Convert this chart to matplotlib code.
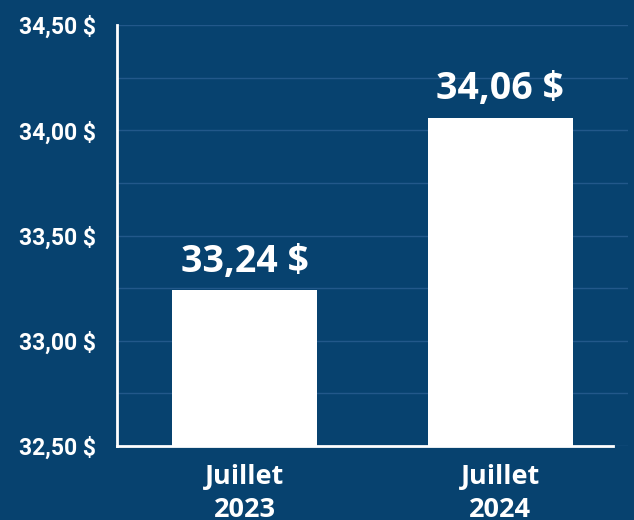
import matplotlib.pyplot as plt
import numpy as np

months = ['Juillet\n2023', 'Juillet\n2024']
wages = [33.24, 34.06]
y_ticks = [32.50, 33.00, 33.50, 34.00, 34.50]

bg = '#07426F'
grid_col = '#22588A'

def fr(v):
    return f'{v:.2f}'.replace('.', ',') + ' $'

fig = plt.figure(figsize=(6.34, 5.2), dpi=100)
fig.patch.set_facecolor(bg)
ax = fig.add_axes([117 / 634, 74 / 520, (628 - 117) / 634, (446 - 25) / 520])
ax.set_facecolor(bg)

x = np.arange(len(months))
bars = ax.bar(x, wages, width=0.566, color='white', zorder=3)

ax.set_xlim(-0.5, 1.5)
ax.set_ylim(32.5, 34.5)
grid_vals = np.arange(32.5, 34.51, 0.25)
ax.set_yticks(grid_vals)
ax.set_yticklabels([fr(v) if v in y_ticks else '' for v in grid_vals],
                   fontfamily='Roboto', fontweight='bold', fontsize=16.5, color='white')
ax.set_xticks(x)
ax.set_xticklabels(months, fontfamily='Open Sans', fontweight='bold', fontsize=19.5,
                   color='white', linespacing=1.35)
ax.tick_params(axis='y', length=0, pad=15)
ax.tick_params(axis='x', length=0, pad=13)

ax.grid(axis='y', color=grid_col, linewidth=1, zorder=0)
for s in ['top', 'right']:
    ax.spines[s].set_visible(False)
for s in ['left', 'bottom']:
    ax.spines[s].set_color('white')
    ax.spines[s].set_linewidth(2)
    ax.spines[s].set_zorder(4)
ax.spines['bottom'].set_bounds(-0.5, 1.44)

for b, v in zip(bars, wages):
    ax.annotate(fr(v), (b.get_x() + b.get_width() / 2, v), xytext=(0, 7),
                textcoords='offset points', ha='center', va='bottom',
                fontfamily='Open Sans', fontweight='bold', fontsize=27, color='white')

fig.savefig('out.png', dpi=100, facecolor=bg)
